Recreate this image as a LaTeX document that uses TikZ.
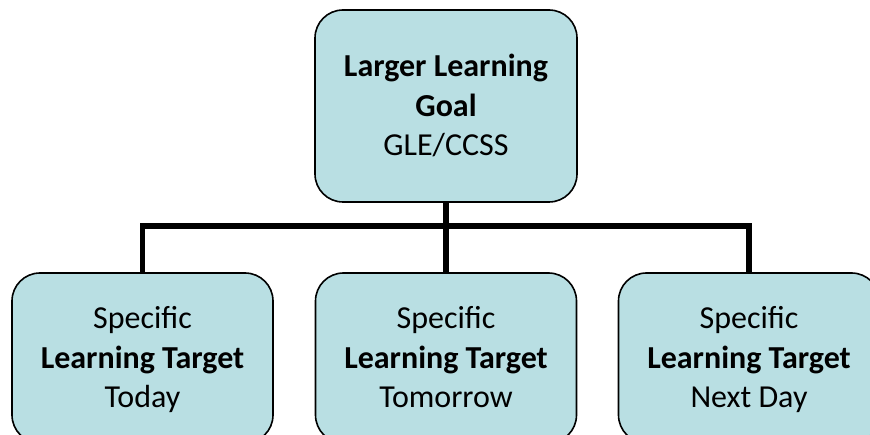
\documentclass[tikz,border=0pt]{standalone}
\usepackage{fontspec}
\setmainfont{Carlito}
\usepackage{tikz}
\definecolor{boxfill}{RGB}{185,223,227}
\newcommand{\topstrut}{\rule{0pt}{32pt}}

\begin{document}
\begin{tikzpicture}[x=1pt, y=-1pt, main/.style={draw, rectangle, rounded corners=28pt, line width=1.6pt, fill=boxfill, align=center, inner sep=0pt, font=\fontsize{32}{39.5}\selectfont}, goalbox/.style={main, minimum width=262pt, minimum height=192pt}, target/.style={main, minimum width=261pt, minimum height=170pt}, n/.style={line width=5.5pt}]
                \clip (0,0) rectangle (870,435);
                % nodes
                \node[goalbox] (goal) at (446,106) {\topstrut\textbf{Larger Learning}\\ \textbf{Goal}\\ GLE/CCSS\strut};
                \node[target] (today) at (142.5,358) {\topstrut Specific\\ \textbf{Learning Target}\\ Today\strut};
                \node[target] (tomorrow) at (446,358) {\topstrut Specific\\ \textbf{Learning Target}\\ Tomorrow\strut};
                \node[target] (nextday) at (749,358) {\topstrut Specific\\ \textbf{Learning Target}\\ Next Day\strut};
                \coordinate (j) at (446,226);
                % edges
                \draw [n] (goal.south) -- (tomorrow.north);
                \draw [n] (today.north) |- (j) -| (nextday.north);
            \end{tikzpicture}
\end{document}
